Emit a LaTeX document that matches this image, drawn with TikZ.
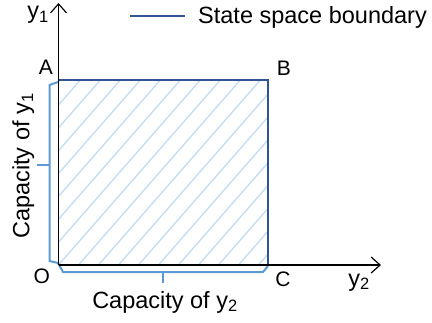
\documentclass[tikz,border=0pt]{standalone}
\usepackage{fontspec}
\setmainfont{Liberation Sans}
\usetikzlibrary{arrows.meta}
\definecolor{bdry}{RGB}{47,85,151}
\definecolor{brc}{RGB}{91,155,213}
\definecolor{hatchc}{RGB}{196,221,244}
\begin{document}
\begin{tikzpicture}[x=1pt,y=-1pt,
  axis/.style={line width=1.4pt,black,-{Straight Barb[length=9pt,width=16pt,line width=1.2pt]}},
  bline/.style={line width=2pt,bdry},
  brace/.style={line width=2pt,brc,line join=miter},
  big/.style={inner sep=0pt,font=\fontsize{23.5}{28}\selectfont},
  lab/.style={inner sep=0pt,font=\fontsize{21}{25}\selectfont,anchor=base}]
\useasboundingbox (0,0) rectangle (432,322);
\coordinate (O) at (58.5,265);
\coordinate (A) at (58.5,80);
\coordinate (B) at (268,80);
\coordinate (C) at (268,265);
\coordinate (ytip) at (58.5,3);
\coordinate (xtip) at (381,265);
% hatch
\begin{scope}
\clip (O) rectangle (B);
\foreach \i in {-220,-200,...,220} {
  \draw[hatchc,line width=1.4pt] (58.5+\i,265) -- ++(175,-200);
}
\end{scope}
% boundary
\draw[bline] (A) -- (B) -- (C);
% braces
\draw[brace] (58,82) -- (49.5,85) -- (49.5,261) -- (58,263) -- (63,272) -- (263,272) -- (268,266);
\coordinate (lt1) at (49.5,165);
\coordinate (lt2) at (37,165);
\coordinate (bt1) at (163,272);
\coordinate (bt2) at (163,283);
\draw[brace] (lt1) -- (lt2);
\draw[brace] (bt1) -- (bt2);
% axes
\draw[axis] (O) -- (ytip);
\draw[axis] (O) -- (xtip);
% legend
\coordinate (lg1) at (130,16);
\coordinate (lg2) at (185,16);
\draw[bline] (lg1) -- (lg2);
\node[big,anchor=base west] (legtext) at (198,23.5) {State space boundary};
% labels
\node[big,anchor=base] (ylab) at (38,18.5) {y\textsubscript{1}};
\node[big,anchor=base] (xlab) at (359,286) {y\textsubscript{2}};
\node[lab] (Alab) at (46,74.3) {A};
\node[lab] (Blab) at (284,75) {B};
\node[lab] (Olab) at (41.7,283.5) {O};
\node[lab] (Clab) at (283,286.5) {C};
\node[big,anchor=base] (cap2) at (165,308) {Capacity of y\textsubscript{2}};
\node[big,anchor=base,rotate=90] (cap1) at (29.5,166) {Capacity of y\textsubscript{1}};
\end{tikzpicture}
\end{document}
